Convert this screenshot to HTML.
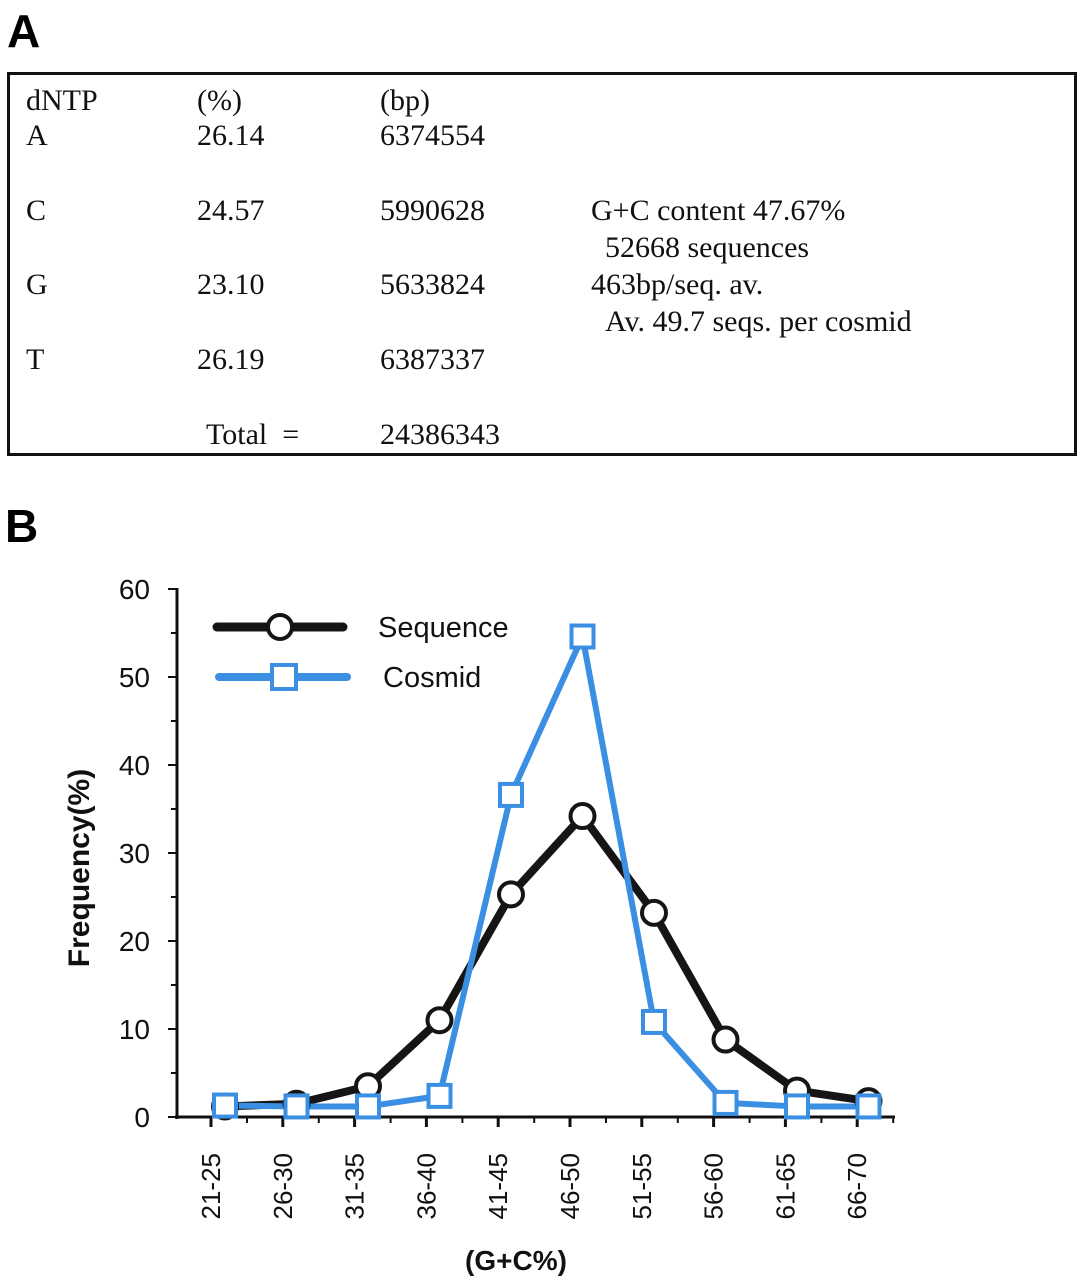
<!DOCTYPE html>
<html><head><meta charset="utf-8"><style>
body{margin:0;background:#fff;width:1080px;height:1280px;overflow:hidden;position:relative;font-family:"Liberation Serif",serif}
.pl{position:absolute;font-family:"Liberation Sans",sans-serif;font-weight:bold;font-size:46px;line-height:1}
#tbl{position:absolute;left:7px;top:72px;width:1064px;height:378px;border:3px solid #111}
.c{position:absolute;font-size:30px;line-height:1;color:#111;white-space:nowrap}
</style></head><body>
<div class="pl" style="left:7px;top:8px">A</div>
<div id="tbl">
<div class="c" style="left:16px;top:11px">dNTP</div>
<div class="c" style="left:187px;top:11px">(%)</div>
<div class="c" style="left:370px;top:11px">(bp)</div>
<div class="c" style="left:16px;top:46px">A</div>
<div class="c" style="left:187px;top:46px">26.14</div>
<div class="c" style="left:370px;top:46px">6374554</div>
<div class="c" style="left:16px;top:121px">C</div>
<div class="c" style="left:187px;top:121px">24.57</div>
<div class="c" style="left:370px;top:121px">5990628</div>
<div class="c" style="left:16px;top:195px">G</div>
<div class="c" style="left:187px;top:195px">23.10</div>
<div class="c" style="left:370px;top:195px">5633824</div>
<div class="c" style="left:16px;top:270px">T</div>
<div class="c" style="left:187px;top:270px">26.19</div>
<div class="c" style="left:370px;top:270px">6387337</div>
<div class="c" style="left:196px;top:345px">Total &nbsp;=</div>
<div class="c" style="left:370px;top:345px">24386343</div>
<div class="c" style="left:581px;top:121px">G+C content 47.67%</div>
<div class="c" style="left:595px;top:158px">52668 sequences</div>
<div class="c" style="left:581px;top:195px">463bp/seq. av.</div>
<div class="c" style="left:595px;top:232px">Av. 49.7 seqs. per cosmid</div>
</div>
<div class="pl" style="left:5px;top:503px">B</div>
<svg id="chart" width="1080" height="1280" style="position:absolute;left:0;top:0" font-family="Liberation Sans, sans-serif"></svg>
<script>
const categories=["21-25","26-30","31-35","36-40","41-45","46-50","51-55","56-60","61-65","66-70"];
const sequenceValues=[1.2,1.5,3.5,11,25.3,34.2,23.2,8.8,3,1.8];
const cosmidValues=[1.3,1.2,1.2,2.4,36.6,54.6,10.8,1.6,1.2,1.2];
const yTicks=[0,10,20,30,40,50,60];
const NS="http://www.w3.org/2000/svg";
const svg=document.getElementById('chart');
const x0=177,x1=895,y0=1117,yTop=589;
function y(v){return y0-(v/60)*(y0-yTop);}
function xp(i){return 225+i*71.5;}
function xt(i){return 211+i*71.8;}
function mk(t,a,p){const e=document.createElementNS(NS,t);for(const k in a)e.setAttribute(k,a[k]);(p||svg).appendChild(e);return e;}
let e;
e=mk('line',{x1:x0,y1:yTop-1,x2:x0,y2:y0+2,stroke:'#111','stroke-width':3});


e=mk('line',{x1:x0-2,y1:y0,x2:x1,y2:y0,stroke:'#111','stroke-width':3});


for(let v=0;v<=60;v+=5){mk('line',{x1:x0-(v%10?6:9),y1:y(v),x2:x0,y2:y(v),stroke:'#111','stroke-width':2});}
yTicks.forEach(v=>{e=mk('text',{x:150,y:y(v)+10,'text-anchor':'end','font-size':28,fill:'#111'});e.textContent=v;

});
for(let i=0;i<categories.length;i++){
 mk('line',{x1:xt(i),y1:y0,x2:xt(i),y2:y0+10,stroke:'#111','stroke-width':3});
 mk('line',{x1:xt(i)+36,y1:y0,x2:xt(i)+36,y2:y0+6,stroke:'#111','stroke-width':2});
 e=mk('text',{x:0,y:0,'text-anchor':'end','font-size':26,fill:'#111',transform:`translate(${xt(i)+9},1153) rotate(-90)`});e.textContent=categories[i];
 
 
}
e=mk('text',{x:0,y:0,'text-anchor':'middle','font-size':30,'font-weight':'bold',fill:'#111',transform:'translate(89,868) rotate(-90)'});e.textContent='Frequency(%)';


e=mk('text',{x:516,y:1270,'text-anchor':'middle','font-size':28,'font-weight':'bold',fill:'#111'});e.textContent='(G+C%)';


const blue='#3b8fe3';
e=mk('polyline',{points:sequenceValues.map((v,i)=>xp(i)+','+y(v)).join(' '),fill:'none',stroke:'#151515','stroke-width':8,'stroke-linejoin':'round'});


e=mk('polyline',{points:cosmidValues.map((v,i)=>xp(i)+','+y(v)).join(' '),fill:'none',stroke:blue,'stroke-width':6,'stroke-linejoin':'round'});


sequenceValues.forEach((v,i)=>{e=mk('circle',{cx:xp(i),cy:y(v),r:12,fill:'#fff',stroke:'#151515','stroke-width':4});

});
cosmidValues.forEach((v,i)=>{e=mk('rect',{x:xp(i)-11,y:y(v)-11,width:22,height:22,fill:'#fff',stroke:blue,'stroke-width':4});

});
const lg=mk('g',{});


mk('line',{x1:217,y1:627,x2:343,y2:627,stroke:'#151515','stroke-width':9,'stroke-linecap':'round'},lg);
mk('circle',{cx:280,cy:627,r:12,fill:'#fff',stroke:'#151515','stroke-width':4},lg);
e=mk('text',{x:378,y:637,'font-size':29,fill:'#111'},lg);e.textContent='Sequence';


mk('line',{x1:219,y1:677,x2:347,y2:677,stroke:blue,'stroke-width':8,'stroke-linecap':'round'},lg);
mk('rect',{x:272,y:665,width:24,height:24,fill:'#fff',stroke:blue,'stroke-width':4},lg);
e=mk('text',{x:383,y:687,'font-size':29,fill:'#111'},lg);e.textContent='Cosmid';


</script>
</body></html>
